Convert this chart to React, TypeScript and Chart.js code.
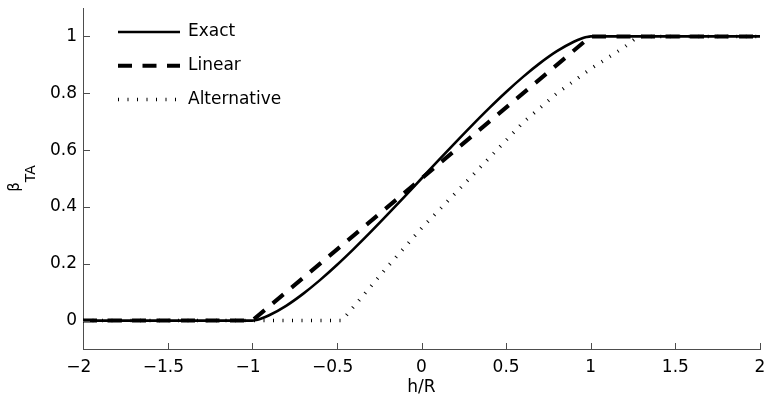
import React, { useEffect, useRef } from "react";
import { Chart, registerables } from "chart.js";

Chart.register(...registerables);

// ---- data ----
const exactH = [-2, -1, -0.975, -0.95, -0.9, -0.8, -0.7, -0.6, -0.5, -0.4, -0.3, -0.2, -0.1, 0, 0.1, 0.2, 0.3, 0.4, 0.5, 0.6, 0.7, 0.8, 0.9, 0.95, 0.975, 1, 2];
const exactBeta = [0, 0, 0.0024, 0.0067, 0.0187, 0.052, 0.0941, 0.1424, 0.1955, 0.2523, 0.3119, 0.3735, 0.4364, 0.5, 0.5636, 0.6265, 0.6881, 0.7477, 0.8045, 0.8576, 0.9059, 0.948, 0.9813, 0.9933, 0.9976, 1, 1];
const linearH = [-2, -1, 1, 2];
const linearBeta = [0, 0, 1, 1];
const altH = [-2, -0.47, -0.2, 0, 0.3, 0.6, 0.8, 1.0, 1.2, 1.28, 2];
const altBeta = [0, 0, 0.19, 0.325, 0.51, 0.697, 0.8, 0.886, 0.963, 1, 1];

const seriesNames = ["Exact", "Linear", "Alternative"];
const xTicks = [-2, -1.5, -1, -0.5, 0, 0.5, 1, 1.5, 2];
const yTicks = [0, 0.2, 0.4, 0.6, 0.8, 1];
const xTitle = "h/R";
const yTitleMain = "β";
const yTitleSub = "TA";

const FONT_FAMILY = "'DejaVu Sans', sans-serif";
const AXIS_COLOR = "#4d4d4d";

const zip = (xs: number[], ys: number[]) => xs.map((x, i) => ({ x, y: ys[i] }));

const fmt = (v: number) => (v < 0 ? "\u2212" + String(Math.abs(v)) + "\u2002" : String(v));

const inwardTicks = {
  id: "inwardTicks",
  afterDatasetsDraw(chart: any) {
    const { ctx, chartArea, scales } = chart;
    ctx.save();
    ctx.strokeStyle = AXIS_COLOR;
    ctx.lineWidth = 1;
    ctx.beginPath();
    for (const v of xTicks) {
      const px = Math.round(scales.x.getPixelForValue(v)) + 0.5;
      ctx.moveTo(px, chartArea.bottom);
      ctx.lineTo(px, chartArea.bottom - 6);
    }
    for (const v of yTicks) {
      const py = Math.round(scales.y.getPixelForValue(v)) + 0.5;
      ctx.moveTo(chartArea.left, py);
      ctx.lineTo(chartArea.left + 7, py);
    }
    ctx.stroke();
    ctx.restore();
  },
};

const insideLegend = {
  id: "insideLegend",
  afterDraw(chart: any) {
    const { ctx, chartArea } = chart;
    const x0 = chartArea.left + 35;
    const x1 = x0 + 62;
    const tx = x1 + 8;
    chart.data.datasets.forEach((ds: any, i: number) => {
      const y = chartArea.top + 24 + i * 33.8;
      ctx.save();
      ctx.strokeStyle = ds.borderColor;
      ctx.lineWidth = ds.borderWidth;
      ctx.lineCap = "butt";
      ctx.setLineDash(ds.borderDash || []);
      ctx.beginPath();
      ctx.moveTo(x0, y);
      ctx.lineTo(x1, y);
      ctx.stroke();
      ctx.setLineDash([]);
      ctx.fillStyle = "#000";
      ctx.font = "17px " + FONT_FAMILY;
      ctx.textBaseline = "middle";
      ctx.textAlign = "left";
      ctx.fillText(ds.label, tx, y);
      ctx.restore();
    });
  },
};

const yTitlePlugin = {
  id: "yTitle",
  afterDraw(chart: any) {
    const { ctx, chartArea } = chart;
    const yc = (chartArea.top + chartArea.bottom) / 2;
    ctx.save();
    ctx.translate(0, yc);
    ctx.rotate(-Math.PI / 2);
    const mainFont = "15px " + FONT_FAMILY;
    const subFont = "14px " + FONT_FAMILY;
    ctx.font = mainFont;
    const wB = ctx.measureText(yTitleMain).width;
    ctx.font = subFont;
    const wS = ctx.measureText(yTitleSub).width;
    const start = -(wB + wS) / 2;
    ctx.fillStyle = "#000";
    ctx.textAlign = "left";
    ctx.textBaseline = "alphabetic";
    ctx.font = mainFont;
    ctx.fillText(yTitleMain, start, 19);
    ctx.font = subFont;
    ctx.fillText(yTitleSub, start + wB, 35);
    ctx.restore();
  },
};

export default function App() {
  const ref = useRef<HTMLCanvasElement | null>(null);

  useEffect(() => {
    if (!ref.current) return;
    const tickFont = { family: FONT_FAMILY, size: 17 };
    const chart = new Chart(ref.current, {
      type: "line",
      data: {
        datasets: [
          {
            label: seriesNames[0],
            data: zip(exactH, exactBeta),
            borderColor: "#000",
            borderWidth: 2.6,
            borderDash: [],
            pointRadius: 0,
            cubicInterpolationMode: "monotone",
            fill: false,
          },
          {
            label: seriesNames[1],
            data: zip(linearH, linearBeta),
            borderColor: "#000",
            borderWidth: 4,
            borderDash: [14, 10.5],
            pointRadius: 0,
            tension: 0,
            fill: false,
          },
          {
            label: seriesNames[2],
            data: zip(altH, altBeta),
            borderColor: "#000",
            borderWidth: 3.5,
            borderDash: [1, 8.5],
            pointRadius: 0,
            tension: 0,
            fill: false,
          },
        ] as any,
      },
      options: {
        responsive: false,
        animation: false,
        devicePixelRatio: 1,
        layout: { padding: { top: 8, right: 4, left: 0, bottom: 0 } },
        plugins: {
          legend: { display: false },
          tooltip: { enabled: false },
        },
        scales: {
          x: {
            type: "linear",
            min: -2,
            max: 2,
            afterBuildTicks: (s: any) => {
              s.ticks = xTicks.map((v) => ({ value: v }));
            },
            afterFit: (s: any) => {
              s.height = 51;
              s.paddingLeft = 0;
              s.paddingRight = 0;
            },
            ticks: {
              callback: (v: any) => fmt(Number(v)),
              font: tickFont,
              color: "#000",
              padding: 8,
              maxRotation: 0,
              autoSkip: false,
            },
            grid: { display: true, drawOnChartArea: false, drawTicks: false },
            border: { display: true, color: AXIS_COLOR, width: 1 },
            title: {
              display: true,
              text: xTitle,
              font: tickFont,
              color: "#000",
              padding: { top: 0, bottom: 2 },
            },
          },
          y: {
            type: "linear",
            min: -0.1,
            max: 1.1,
            afterBuildTicks: (s: any) => {
              s.ticks = yTicks.map((v) => ({ value: v }));
            },
            afterFit: (s: any) => {
              s.width = 83;
              s.paddingTop = 0;
              s.paddingBottom = 0;
            },
            ticks: {
              callback: (v: any) => fmt(Number(v)),
              font: tickFont,
              color: "#000",
              padding: 6,
            },
            grid: { display: true, drawOnChartArea: false, drawTicks: false },
            border: { display: true, color: AXIS_COLOR, width: 1 },
          },
        },
      } as any,
      plugins: [inwardTicks, insideLegend, yTitlePlugin],
    });
    return () => chart.destroy();
  }, []);

  return (
    <div style={{ position: "absolute", left: 0, top: 0, width: 764, height: 400, background: "#fff" }}>
      <canvas ref={ref} width={764} height={400} />
    </div>
  );
}
